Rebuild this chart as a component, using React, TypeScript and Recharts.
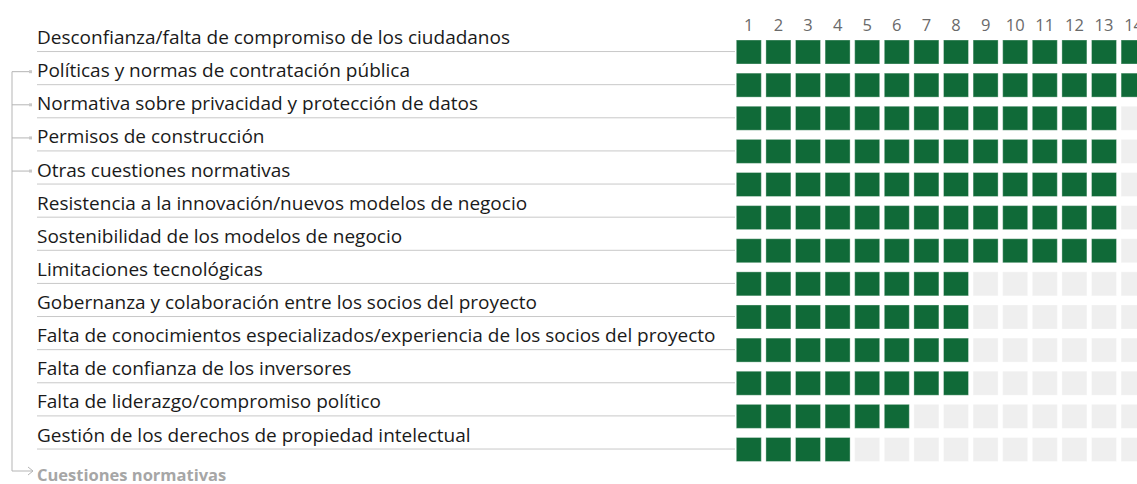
import { BarChart, Bar, XAxis, YAxis, Cell } from 'recharts'

const barriers = [
  'Desconfianza/falta de compromiso de los ciudadanos',
  'Políticas y normas de contratación pública',
  'Normativa sobre privacidad y protección de datos',
  'Permisos de construcción',
  'Otras cuestiones normativas',
  'Resistencia a la innovación/nuevos modelos de negocio',
  'Sostenibilidad de los modelos de negocio',
  'Limitaciones tecnológicas',
  'Gobernanza y colaboración entre los socios del proyecto',
  'Falta de conocimientos especializados/experiencia de los socios del proyecto',
  'Falta de confianza de los inversores',
  'Falta de liderazgo/compromiso político',
  'Gestión de los derechos de propiedad intelectual',
]

const counts = [14, 14, 13, 13, 13, 13, 13, 8, 8, 8, 8, 6, 4]

const columnLabels = ['1', '2', '3', '4', '5', '6', '7', '8', '9', '10', '11', '12', '13', '14']

// filas agrupadas bajo "Cuestiones normativas"
const normativeRows = [1, 2, 3, 4]
const groupLabel = 'Cuestiones normativas'

const GREEN = '#106a38'
const EMPTY = '#efefef'
const FONT = '"Open Sans", sans-serif'

const data = barriers.map((name, i) => {
  const row: Record<string, string | number> = { name, count: counts[i] }
  columnLabels.forEach((_, c) => {
    row[`c${c}`] = 1
  })
  return row
})

const CellShape = (props: any) => {
  const { x, y, width, height, fill } = props
  return <rect x={x + 2.3} y={y} width={width - 4.6} height={height} fill={fill} stroke="#fff" strokeOpacity={0.35} strokeWidth={1} />
}

const RowLabel = (props: any) => {
  const { y, payload, index } = props
  const lineY = y
  const textY = lineY - 7.5
  const isNormative = normativeRows.includes(index)
  return (
    <g>
      <line x1={37} x2={735} y1={lineY} y2={lineY} stroke="#c8c8c8" strokeWidth={1} />
      <text x={37} y={textY} fontSize={19} fill="#1a1a1a" fontFamily={FONT}>
        {payload.value}
      </text>
      {isNormative && (
        <g>
          <line x1={12} x2={29} y1={lineY - 13} y2={lineY - 13} stroke="#b5b5b5" strokeWidth={1} />
          <rect x={29} y={lineY - 14.5} width={3} height={3} fill="#c8c8c8" />
        </g>
      )}
      {index === normativeRows[0] && (
        <g>
          <line x1={12} x2={12} y1={lineY - 13} y2={471} stroke="#b5b5b5" strokeWidth={1} />
          <line x1={12} x2={33} y1={471} y2={471} stroke="#b5b5b5" strokeWidth={1} />
          <polyline points="28,467 33,471 28,475" fill="none" stroke="#b5b5b5" strokeWidth={1} />
          <text x={37} y={481} fontSize={16.5} fontWeight="bold" fill="#a6a6a6" fontFamily={FONT}>
            {groupLabel}
          </text>
        </g>
      )}
    </g>
  )
}

const ColumnTick = (props: any) => {
  const { x, payload } = props
  return (
    <text x={x} y={31} textAnchor="middle" fontSize={16.5} fill="#6a6a6a" fontFamily={FONT}>
      {columnLabels[Math.round(payload.value - 0.5)]}
    </text>
  )
}

export default function App() {
  return (
    <div style={{ position: 'fixed', left: 0, top: 0, width: 1137, height: 484, overflow: 'hidden', background: '#fff' }}>
      <BarChart
        width={1160}
        height={484}
        data={data}
        layout="vertical"
        margin={{ top: 10, right: 11.6, left: 0, bottom: 18.4 }}
      >
        <XAxis
          type="number"
          orientation="top"
          domain={[0, columnLabels.length]}
          ticks={columnLabels.map((_, i) => i + 0.5)}
          interval={0}
          height={25}
          axisLine={false}
          tickLine={false}
          tick={<ColumnTick />}
        />
        <YAxis
          type="category"
          dataKey="name"
          width={734}
          axisLine={false}
          tickLine={false}
          interval={0}
          tick={<RowLabel />}
        />
        {columnLabels.map((_, c) => (
          <Bar
            key={c}
            dataKey={`c${c}`}
            stackId="w"
            barSize={24}
            shape={<CellShape />}
            isAnimationActive={false}
          >
            {data.map((row, r) => (
              <Cell key={r} fill={c < (row.count as number) ? GREEN : EMPTY} />
            ))}
          </Bar>
        ))}
      </BarChart>
    </div>
  )
}
